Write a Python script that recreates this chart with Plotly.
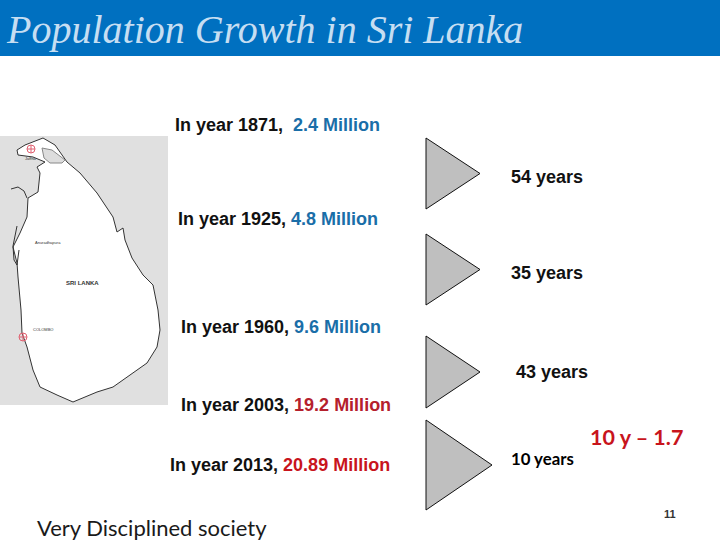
import plotly.graph_objects as go

title = "Population Growth in Sri Lanka"

# population lines: x, y, year text, value text, value colour
pop_x = [173, 176, 179, 179, 168]
pop_y = [125, 219, 327, 405, 465]
pop_years = ["In year 1871,  ", "In year 1925, ", "In year 1960, ", "In year 2003, ", "In year 2013, "]
pop_values = ["2.4 Million", "4.8 Million", "9.6 Million", "19.2 Million", "20.89 Million"]
pop_colors = ["#1a6ea8", "#1a6ea8", "#1a6ea8", "#b5202c", "#c8141c"]

gap_x = [509, 509, 514]
gap_y = [177, 273, 372]
gap_labels = ["54 years", "35 years", "43 years"]

# triangles as left x, top y, bottom y, tip x
tri_left = [426, 426, 426, 426]
tri_top = [138, 234, 336, 420]
tri_bottom = [209, 305, 408, 510]
tri_tip = [480, 480, 480, 492]

# island outline, pixels
island_x = [25, 43, 55, 67, 80, 97, 113, 115, 117, 123, 125, 132, 143, 153, 158, 160, 157, 147, 133, 113, 97,
            73, 57, 40, 33, 27, 22, 21, 18, 17, 13, 20, 27, 28, 38, 40, 37, 45, 33, 18, 17, 25]
island_y = [145, 138, 145, 162, 173, 193, 217, 225, 232, 228, 240, 258, 275, 285, 310, 330, 347, 363, 373, 387, 392,
            402, 395, 387, 370, 347, 333, 310, 277, 263, 247, 233, 217, 198, 192, 173, 167, 162, 157, 155, 150, 145]

# coast details on the map
lagoon_x = [42, 52, 65, 62, 50, 44, 42]
lagoon_y = [148, 150, 160, 163, 163, 158, 148]
mannar_x = [11, 18, 24, 27]
mannar_y = [189, 187, 191, 198]
puttalam_x = [17, 13, 14, 17, 19]
puttalam_y = [226, 246, 260, 265, 250]
map_place_x = [48, 82, 43, 31]
map_place_y = [242, 283, 329, 158]
map_place_names = ["Anuradhapura", "<b>SRI LANKA</b>", "COLOMBO", "Jaffna"]
map_place_sizes = [4, 6, 4, 4]
city_x = [31, 23]
city_y = [149, 337]

fig = go.Figure()

fig.add_shape(type="rect", x0=0, x1=720, y0=0, y1=56, fillcolor="#0070c0", line_width=0, layer="below")
fig.add_shape(type="rect", x0=0, x1=168, y0=136, y1=405, fillcolor="#e0e0e0", line_width=0, layer="below")

fig.add_trace(go.Scatter(x=island_x, y=island_y, mode="lines", fill="toself", fillcolor="white",
                         line=dict(color="#333333", width=1)))
fig.add_trace(go.Scatter(x=lagoon_x, y=lagoon_y, mode="lines", fill="toself", fillcolor="#dddddd",
                         line=dict(color="#888888", width=1)))
for xs, ys in [(mannar_x, mannar_y), (puttalam_x, puttalam_y)]:
    fig.add_trace(go.Scatter(x=xs, y=ys, mode="lines", line=dict(color="#333333", width=1)))
fig.add_trace(go.Scatter(x=city_x, y=city_y, mode="markers",
                         marker=dict(symbol="circle-cross-open", size=8, color="#e06070", line=dict(width=1))))

for left, top, bottom, tip in zip(tri_left, tri_top, tri_bottom, tri_tip):
    fig.add_trace(go.Scatter(x=[left, tip, left, left], y=[top, (top + bottom) / 2, bottom, top],
                             mode="lines", fill="toself", fillcolor="#bfbfbf",
                             line=dict(color="#111111", width=1)))


def label(x, y, text, size=18, color="#111111", family="Liberation Sans", anchor="left"):
    fig.add_annotation(x=x, y=y, text=text, showarrow=False, xanchor=anchor, yanchor="middle",
                       font=dict(size=size, color=color, family=family))


label(4, 29, "<i>%s</i>" % title, size=40, color="#c6def2", family="Liberation Serif")

for x, y, year, value, color in zip(pop_x, pop_y, pop_years, pop_values, pop_colors):
    year = year.replace("  ", "&nbsp; ")
    label(x, y, '<b>%s</b><b style="color:%s">%s</b>' % (year, color, value))

for x, y, text in zip(gap_x, gap_y, gap_labels):
    label(x, y, "<b>%s</b>" % text)

for x, y, text, size in zip(map_place_x, map_place_y, map_place_names, map_place_sizes):
    label(x, y, text, size=size, color="#333333", anchor="center")

label(509, 458, "<b>10 years</b>", size=16.8, color="black", family="Lato")
label(588, 437, "<b>10 y – 1.7</b>", size=21.5, color="#c8141c", family="Lato")
label(35, 527, "Very Disciplined society", size=22, color="#1a1a1a", family="Lato")
label(662, 514, "<b>11</b>", size=11, color="#333333")

fig.update_xaxes(range=[0, 720], visible=False)
fig.update_yaxes(range=[540, 0], visible=False)
fig.update_layout(width=720, height=540, margin=dict(l=0, r=0, t=0, b=0), showlegend=False,
                  plot_bgcolor="white", paper_bgcolor="white")

# the page's default body margin would push the figure 8px off
fig.write_html("out.html", post_script="document.body.style.margin = '0';",
               config=dict(displayModeBar=False))
